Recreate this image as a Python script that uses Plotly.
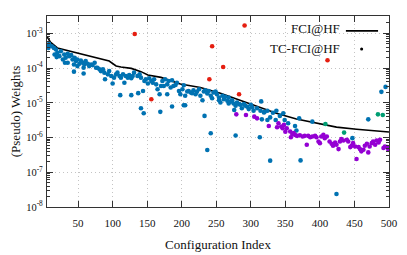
import plotly.graph_objects as go

# ---------------- data ----------------
fci_x = [5, 10, 20, 35, 49, 64, 78, 95, 105, 112, 127, 141, 151, 170, 198, 227,
         256, 285, 314, 337, 366, 395, 424, 453, 482, 500]
fci_w = [8.2e-4, 5.6e-4, 3.8e-4, 3.2e-4, 2.75e-4, 2.35e-4, 2.0e-4, 1.6e-4, 1.15e-4,
         1.07e-4, 9.8e-5, 7.9e-5, 6.3e-5, 5.4e-5, 3.5e-5, 2.75e-5, 1.9e-5, 1.2e-5,
         7.4e-6, 5.0e-6, 3.4e-6, 2.6e-6, 2.0e-6, 1.74e-6, 1.55e-6, 1.45e-6]

blue_x = [5, 8, 7, 12, 15, 18, 20, 16, 23, 25,
          19, 30, 32, 35, 37, 40, 28, 31, 35, 42,
          45, 47, 49, 44, 49, 52, 54, 57, 59, 61,
          64, 66, 69, 71, 74, 76, 58, 44, 58,
          78, 81, 83, 86, 88, 89, 93, 95, 98, 100,
          102, 105, 107, 110, 112, 115, 117, 119, 122, 124,
          127, 129, 111, 127, 137, 144, 131, 136, 139, 141,
          146, 148, 151, 153, 156, 158, 160, 163, 165, 168,
          170, 141, 145, 169, 186, 203, 205,
          172, 174, 176, 179, 181, 184, 186, 188, 191, 193,
          196, 198, 201, 203, 205, 208, 210, 213, 215, 217,
          220, 222, 225, 227, 232, 234, 237, 239, 242, 244,
          246, 249, 251, 254, 256, 259, 261, 263, 266, 268,
          271, 273, 275, 278, 280, 283, 285, 287, 290, 292,
          295, 297, 300, 302, 304, 309, 314, 319, 324,
          179, 230, 254, 268, 276,
          316, 320, 324, 328, 332, 336, 315, 337, 342, 347,
          349, 354, 364, 366, 370, 389, 470, 489, 495,
          233, 242, 237, 278, 313, 328, 372, 424, 447]
blue_w = [4.55e-4, 4.97e-4, 3.82e-4, 4.25e-4, 3.82e-4, 3.42e-4, 2.75e-4, 2.46e-4, 2.21e-4, 3.06e-4,
          2.07e-4, 2.46e-4, 1.98e-4, 2.57e-4, 2.21e-4, 2.36e-4, 1.77e-4, 1.42e-4, 1.42e-4, 1.77e-4,
          1.98e-4, 1.59e-4, 1.77e-4, 1.27e-4, 1.14e-4, 1.33e-4, 1.66e-4, 1.42e-4, 1.27e-4, 1.59e-4,
          1.33e-4, 1.14e-4, 1.27e-4, 1.22e-4, 1.42e-4, 1.02e-4, 1.02e-4, 7.9e-5, 7.0e-5,
          1.02e-4, 9.2e-5, 8.2e-5, 9.2e-5, 7.4e-5, 4.75e-5, 6.6e-5, 8.2e-5, 5.9e-5, 3.6e-5,
          5.3e-5, 6.6e-5, 7.4e-5, 5.9e-5, 5.3e-5, 6.6e-5, 3.8e-5, 5.9e-5, 5.3e-5, 6.3e-5,
          5.1e-5, 5.9e-5, 1.66e-5, 1.66e-5, 1.9e-5, 2.2e-5, 7.4e-5, 5.9e-5, 6.6e-5, 5.3e-5,
          4.26e-5, 4.75e-5, 3.6e-5, 5.1e-5, 4.26e-5, 3.8e-5, 4.75e-5, 3.4e-5, 2.46e-5, 1.77e-5,
          3.06e-5, 7.0e-6, 5.0e-6, 5.5e-6, 7.8e-6, 8.5e-6, 8.5e-6,
          4.26e-5, 3.06e-5, 4.75e-5, 3.4e-5, 4.26e-5, 2.75e-5, 4.45e-5, 3.06e-5, 3.27e-5, 3.8e-5,
          2.2e-5, 1.77e-5, 2.46e-5, 3.2e-5, 1.59e-5, 2.11e-5, 2.2e-5, 1.98e-5, 1.9e-5, 2.31e-5,
          1.77e-5, 2.07e-5, 2.46e-5, 1.59e-5, 2.11e-5, 2.31e-5, 1.85e-5, 2.2e-5, 1.59e-5, 1.36e-5,
          1.98e-5, 2.11e-5, 1.77e-5, 1.42e-5, 1.02e-5, 1.59e-5, 1.27e-5, 1.49e-5, 1.14e-5, 1.42e-5,
          1.09e-5, 1.19e-5, 9.6e-6, 8.2e-6, 1.02e-5, 9.2e-6, 8.8e-6, 7.0e-6, 9.2e-6, 8.2e-6,
          7.7e-6, 6.6e-6, 8.8e-6, 7.4e-6, 5.9e-6, 7.0e-6, 5.9e-6, 5.3e-6, 5.9e-6,
          1.77e-5, 1.19e-5, 1.19e-5, 9.6e-6, 6.2e-6,
          3.34e-6, 5.5e-6, 3.2e-6, 3.8e-6, 5.2e-6, 3.2e-6, 1.1e-5, 5.9e-6, 4.2e-6, 5.0e-6,
          3.2e-6, 2.57e-6, 2.16e-6, 1.59e-6, 3.57e-6, 2.87e-6, 3.34e-6, 2.07e-5, 2.87e-5,
          4.2e-6, 1.33e-6, 4.4e-7, 1.14e-6, 1.02e-6, 2.16e-7, 2.2e-7, 2.36e-8, 9.6e-7]

purple_x = [279, 293, 305, 309, 326, 338, 340, 344, 346, 348,
            350, 352, 357, 358, 360, 362, 364, 367, 371, 375,
            378, 381, 383, 386, 389, 393, 395, 398, 400, 402,
            405, 407, 410, 414, 417, 419, 422, 424, 427, 429,
            431, 434, 439, 441, 444, 446, 448, 451, 453, 456,
            458, 460, 463, 465, 468, 470, 472, 475, 477, 480,
            482, 485, 487, 492, 494, 497, 499]
purple_w = [4.65e-6, 4.45e-6, 4.0e-6, 3.57e-6, 2.16e-6, 1.98e-6, 2.57e-6, 2.07e-6, 1.86e-6, 2.31e-6,
            1.48e-6, 1.85e-6, 1.49e-6, 1.02e-6, 1.27e-6, 1.35e-6, 1.19e-6, 1.12e-6, 1.17e-6, 1.07e-6,
            1.12e-6, 6.2e-7, 1.12e-6, 1.02e-6, 1.07e-6, 1.12e-6, 1.02e-6, 7.7e-7, 6.9e-7, 1.07e-6,
            1.19e-6, 9.6e-7, 1.07e-6, 7.7e-7, 6.6e-7, 5.8e-7, 7.2e-7, 6.2e-7, 4.65e-7, 7.7e-7,
            9.0e-7, 8.2e-7, 8.6e-7, 7.7e-7, 5.3e-7, 5.8e-7, 6.9e-7, 5.5e-7, 2.4e-7, 5.3e-7,
            4.65e-7, 4.0e-7, 4.45e-7, 5.8e-7, 6.6e-7, 3.73e-7, 5.5e-7, 6.9e-7, 7.7e-7, 6.2e-7,
            8.2e-7, 7.2e-7, 8.6e-7, 5.0e-7, 5.5e-7, 5.3e-7, 4.45e-7]

green_x = [408, 435, 484, 491]
green_w = [2.46e-6, 1.39e-6, 4.65e-6, 4.45e-6]

red_x = [132, 156, 240, 244, 260, 283, 291, 411]
red_w = [9.6e-4, 1.27e-5, 4.75e-5, 4.25e-4, 1.07e-4, 1.77e-5, 1.69e-3, 1.69e-4]

x_ticks = [50, 100, 150, 200, 250, 300, 350, 400, 450, 500]
y_exps = [-8, -7, -6, -5, -4, -3]

assert len(blue_x) == len(blue_w)
assert len(purple_x) == len(purple_w)

# ---------------- figure ----------------
FONT = "Liberation Serif"
fig = go.Figure()

fig.add_trace(go.Scatter(x=fci_x, y=fci_w, mode="lines",
                         line=dict(color="black", width=1.6), hoverinfo="skip"))

def dots(x, y, color):
    fig.add_trace(go.Scatter(x=x, y=y, mode="markers",
                             marker=dict(color=color, size=4.6, line=dict(width=0))))

dots(blue_x, blue_w, "#0072b2")
dots(purple_x, purple_w, "#9400d3")
dots(green_x, green_w, "#009e73")
dots(red_x, red_w, "#e51e10")

minor_vals = [k * 10.0 ** e for e in range(-8, -2) for k in range(2, 10)]

# the page body has an 8px default margin, so margins are offset to compensate
fig.update_layout(
    width=407, height=255,
    margin=dict(l=39, r=26, t=8, b=56),
    plot_bgcolor="white", paper_bgcolor="white",
    font=dict(family=FONT, size=11, color="#111"),
    showlegend=False,
    xaxis=dict(
        range=[5, 500], tickmode="array", tickvals=x_ticks, automargin=False,
        ticks="inside", ticklen=6, tickcolor="#333", tickwidth=1,
        showline=True, mirror="ticks", linecolor="#333", linewidth=1.2,
        showgrid=True, gridcolor="#c4c4c4", griddash="1px,3px", gridwidth=1,
        zeroline=False, ticklabelstandoff=6,
        title=dict(text="Configuration Index", font=dict(size=13), standoff=11),
    ),
    yaxis=dict(
        type="log", range=[-8, -2.5], tickmode="array", automargin=False,
        tickvals=[10.0 ** e for e in y_exps],
        ticktext=["10<sup>%d</sup>" % e for e in y_exps],
        ticks="inside", ticklen=6, tickcolor="#333", tickwidth=1,
        tickfont=dict(size=10.5),
        minor=dict(ticks="inside", ticklen=3, tickcolor="#333", tickmode="array",
                   tickvals=minor_vals, showgrid=False),
        showline=True, mirror="ticks", linecolor="#333", linewidth=1.2,
        showgrid=True, gridcolor="#c4c4c4", griddash="1px,3px", gridwidth=1,
        zeroline=False, ticklabelstandoff=1,
        title=dict(text="(Pseudo) Weights", font=dict(size=13), standoff=6),
    ),
)

# legend (text left of sample, as in the reference)
fig.add_annotation(xref="paper", yref="paper", x=0.862, y=0.935, text="FCI@HF",
                   showarrow=False, xanchor="right", yanchor="middle",
                   font=dict(family=FONT, size=13, color="#111"))
fig.add_annotation(xref="paper", yref="paper", x=0.862, y=0.832, text="TC-FCI@HF",
                   showarrow=False, xanchor="right", yanchor="middle",
                   font=dict(family=FONT, size=13, color="#111"))
fig.add_shape(type="line", xref="paper", yref="paper", x0=0.874, x1=0.968,
              y0=0.922, y1=0.922, line=dict(color="black", width=1.6))
fig.add_shape(type="circle", xref="paper", yref="paper",
              x0=0.920 - 0.0045, x1=0.920 + 0.0045, y0=0.827 - 0.008, y1=0.827 + 0.008,
              fillcolor="black", line=dict(width=0))

fig.write_html("out.html")
